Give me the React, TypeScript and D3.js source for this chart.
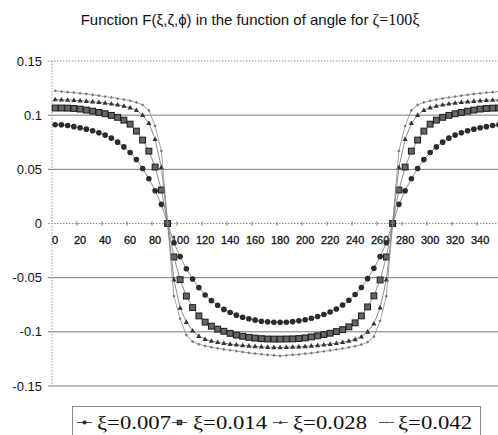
import React from "react";
import * as d3 from "d3";

// angle categories (degrees), one point every 5 degrees
const angles = [
  0, 5, 10, 15, 20, 25, 30, 35, 40, 45, 50, 55, 60, 65, 70, 75, 80, 85, 90,
  95, 100, 105, 110, 115, 120, 125, 130, 135, 140, 145, 150, 155, 160, 165, 170, 175, 180,
  185, 190, 195, 200, 205, 210, 215, 220, 225, 230, 235, 240, 245, 250, 255, 260, 265, 270,
  275, 280, 285, 290, 295, 300, 305, 310, 315, 320, 325, 330, 335, 340, 345, 350, 355,
];

const xTickLabels = [0, 20, 40, 60, 80, 100, 120, 140, 160, 180, 200, 220, 240, 260, 280, 300, 320, 340];
const yTicks = [0.15, 0.1, 0.05, 0, -0.05, -0.1, -0.15];
const yTickLabels = ["0.15", "0.1", "0.05", "0", "-0.05", "-0.1", "-0.15"];
const seriesNames = ["ξ=0.007", "ξ=0.014", "ξ=0.028", "ξ=0.042"];

const xi007 = [
  0.0912, 0.0911, 0.0904, 0.0894, 0.0884, 0.0871, 0.0856, 0.0838, 0.0816, 0.0788, 0.0751, 0.0707, 0.0655, 0.059, 0.0508, 0.0413, 0.0303, 0.0177, 0,
  -0.0177, -0.0305, -0.0418, -0.0512, -0.0592, -0.066, -0.0712, -0.0755, -0.0793, -0.0821, -0.0846, -0.0865, -0.0879, -0.0892, -0.0902, -0.0908, -0.0911, -0.0912,
  -0.0911, -0.0906, -0.0898, -0.0888, -0.0874, -0.0858, -0.084, -0.0817, -0.0789, -0.0752, -0.0708, -0.0656, -0.0591, -0.0509, -0.0414, -0.0304, -0.0177, 0,
  0.0177, 0.0303, 0.0413, 0.0508, 0.059, 0.0655, 0.0707, 0.0751, 0.0788, 0.0816, 0.0838, 0.0856, 0.0871, 0.0884, 0.0894, 0.0904, 0.0911,
];

const xi014 = [
  0.1066, 0.1066, 0.1065, 0.1062, 0.1056, 0.1047, 0.1037, 0.1025, 0.1013, 0.0998, 0.098, 0.0954, 0.0917, 0.0853, 0.077, 0.0668, 0.0521, 0.0309, 0,
  -0.0309, -0.0518, -0.067, -0.0776, -0.0853, -0.091, -0.0948, -0.0975, -0.0995, -0.1014, -0.103, -0.1041, -0.1051, -0.1058, -0.1063, -0.1066, -0.1067, -0.1067,
  -0.1066, -0.1065, -0.1062, -0.1056, -0.1047, -0.1037, -0.1025, -0.1013, -0.0998, -0.098, -0.0954, -0.0917, -0.0853, -0.077, -0.0668, -0.0521, -0.0309, 0,
  0.0309, 0.0521, 0.0668, 0.077, 0.0853, 0.0917, 0.0954, 0.098, 0.0998, 0.1013, 0.1025, 0.1037, 0.1047, 0.1056, 0.1062, 0.1065, 0.1066,
];

const xi028 = [
  0.1145, 0.1142, 0.114, 0.1138, 0.1134, 0.113, 0.1125, 0.1119, 0.1113, 0.1105, 0.1096, 0.1085, 0.107, 0.1045, 0.1, 0.0925, 0.0778, 0.0518, 0,
  -0.0518, -0.078, -0.091, -0.099, -0.104, -0.1068, -0.1085, -0.1096, -0.1105, -0.1113, -0.1119, -0.1125, -0.113, -0.1134, -0.1138, -0.1141, -0.1143, -0.1145,
  -0.1142, -0.114, -0.1138, -0.1134, -0.113, -0.1125, -0.1119, -0.1113, -0.1105, -0.1096, -0.1085, -0.107, -0.1045, -0.1, -0.0925, -0.0778, -0.0518, 0,
  0.0518, 0.0778, 0.0925, 0.1, 0.1045, 0.107, 0.1085, 0.1096, 0.1105, 0.1113, 0.1119, 0.1125, 0.113, 0.1134, 0.1138, 0.114, 0.1142,
];

const xi042 = [
  0.1225, 0.1218, 0.1212, 0.1208, 0.1202, 0.1196, 0.1188, 0.118, 0.1172, 0.1163, 0.1154, 0.1144, 0.1133, 0.1118, 0.1095, 0.1045, 0.09, 0.067, 0,
  -0.067, -0.088, -0.103, -0.109, -0.1115, -0.113, -0.1142, -0.1152, -0.1161, -0.117, -0.1178, -0.1186, -0.1194, -0.1201, -0.1207, -0.1212, -0.1217, -0.1222,
  -0.1218, -0.1212, -0.1208, -0.1202, -0.1196, -0.1188, -0.118, -0.1172, -0.1163, -0.1154, -0.1144, -0.1133, -0.1118, -0.1095, -0.1045, -0.09, -0.067, 0,
  0.067, 0.09, 0.1045, 0.1095, 0.1118, 0.1133, 0.1144, 0.1154, 0.1163, 0.1172, 0.118, 0.1188, 0.1196, 0.1202, 0.1208, 0.1212, 0.1218,
];

const seriesValues = [xi007, xi014, xi028, xi042];
const markerKinds = ["circle", "square", "triangle", "dot"];

const W = 498;
const H = 435;
const plot = { left: 52, right: 502, top: 61, bottom: 386 };
const sans = "'Liberation Sans', Arial, sans-serif";
const serif = "'Liberation Serif', 'Times New Roman', serif";

// small marker glyphs like the scanned Excel chart
const Marker = ({ kind, cx, cy, k = 1 }: { kind: string; cx: number; cy: number; k?: number }) => {
  if (kind === "circle") return <circle cx={cx} cy={cy} r={2.8 * k} fill="#2b2b2b" />;
  if (kind === "square")
    return (
      <rect
        x={cx - 2.9 * k}
        y={cy - 2.9 * k}
        width={5.8 * k}
        height={5.8 * k}
        fill="#666"
        stroke="#222"
        strokeWidth={1.1}
      />
    );
  if (kind === "triangle")
    return <path d={`M${cx},${cy - 2.8 * k}L${cx + 2.6 * k},${cy + 1.8 * k}L${cx - 2.6 * k},${cy + 1.8 * k}Z`} fill="#333" />;
  return <path d={`M${cx},${cy - 1.6 * k}L${cx + 1.6 * k},${cy}L${cx},${cy + 1.6 * k}L${cx - 1.6 * k},${cy}Z`} fill="#777" />;
};

export default function App() {
  const x = d3.scaleLinear().domain([-2.5, 357.5]).range([plot.left, plot.right]);
  const y = d3.scaleLinear().domain([-0.15, 0.15]).range([plot.bottom, plot.top]);

  const line = d3
    .line<number>()
    .x((_, i) => x(angles[i]))
    .y((d) => y(d));

  // legend item positions (marker start, text start)
  const legendItems = [
    { mx: 77, tx: 97 },
    { mx: 172, tx: 193 },
    { mx: 273, tx: 293 },
    { mx: 379, tx: 398 },
  ];

  return (
    <svg
      width={W}
      height={H}
      viewBox={`0 0 ${W} ${H}`}
      style={{ position: "absolute", left: 0, top: 0, background: "#fff" }}
    >
      <rect width={W} height={H} fill="#fff" />

      <text x={250} y={25} textAnchor="middle" fontFamily={sans} fontSize={15} fill="#111">
        Function F(ξ,ζ,ϕ) in the function of angle for{" "}
        <tspan fontFamily={serif} fontSize={16}>ζ=100ξ</tspan>
      </text>

      {/* horizontal gridlines */}
      {yTicks.map((t, i) => {
        const dotted = t === 0.15 || t === 0;
        return (
          <line
            key={`g-${i}`}
            x1={plot.left - 4}
            x2={W}
            y1={y(t)}
            y2={y(t)}
            stroke={dotted ? "#8a8a8a" : "#7a7a7a"}
            strokeWidth={1}
            strokeDasharray={dotted ? "1.5,1.5" : undefined}
          />
        );
      })}

      {/* y axis */}
      <line x1={plot.left} x2={plot.left} y1={plot.top} y2={plot.bottom} stroke="#999" strokeDasharray="1.5,1.5" />

      {yTicks.map((t, i) => (
        <text
          key={`yl-${i}`}
          x={42}
          y={y(t) + 4.5}
          textAnchor="end"
          fontFamily={sans}
          fontSize={13}
          fill="#111"
        >
          {yTickLabels[i]}
        </text>
      ))}

      {/* tick marks on the zero line between categories */}
      {xTickLabels.slice(1).map((a) => (
        <line key={`xt-${a}`} x1={x(a - 2.5)} x2={x(a - 2.5)} y1={y(0) - 2} y2={y(0) + 2} stroke="#777" />
      ))}

      {xTickLabels.map((a) => (
        <text
          key={`xl-${a}`}
          x={x(a)}
          y={244}
          textAnchor="middle"
          fontFamily={sans}
          fontSize={11}
          fill="#111"
          stroke="#111"
          strokeWidth={0.3}
        >
          {a}
        </text>
      ))}

      {/* series */}
      {seriesValues.map((vals, s) => (
        <g key={`s-${s}`}>
          <path d={line(vals) ?? ""} fill="none" stroke={s === 3 ? "#8a8a8a" : "#707070"} strokeWidth={0.8} />
          {vals.map((v, i) => (
            <Marker key={i} kind={markerKinds[s]} cx={x(angles[i])} cy={y(v)} />
          ))}
        </g>
      ))}

      {/* legend */}
      <rect x={72.5} y={406.5} width={408} height={40} fill="#fff" stroke="#888" strokeWidth={1} />
      {legendItems.map((it, i) => (
        <g key={`lg-${i}`}>
          <line x1={it.mx} x2={it.mx + 15} y1={422.5} y2={422.5} stroke="#555" strokeWidth={1} />
          <Marker kind={markerKinds[i]} cx={it.mx + 7.5} cy={422.5} k={0.75} />
          <text
            x={it.tx}
            y={429}
            fontFamily={serif}
            fontSize={19}
            fill="#111"
            textLength={74}
            lengthAdjust="spacingAndGlyphs"
          >
            {seriesNames[i]}
          </text>
        </g>
      ))}
    </svg>
  );
}
